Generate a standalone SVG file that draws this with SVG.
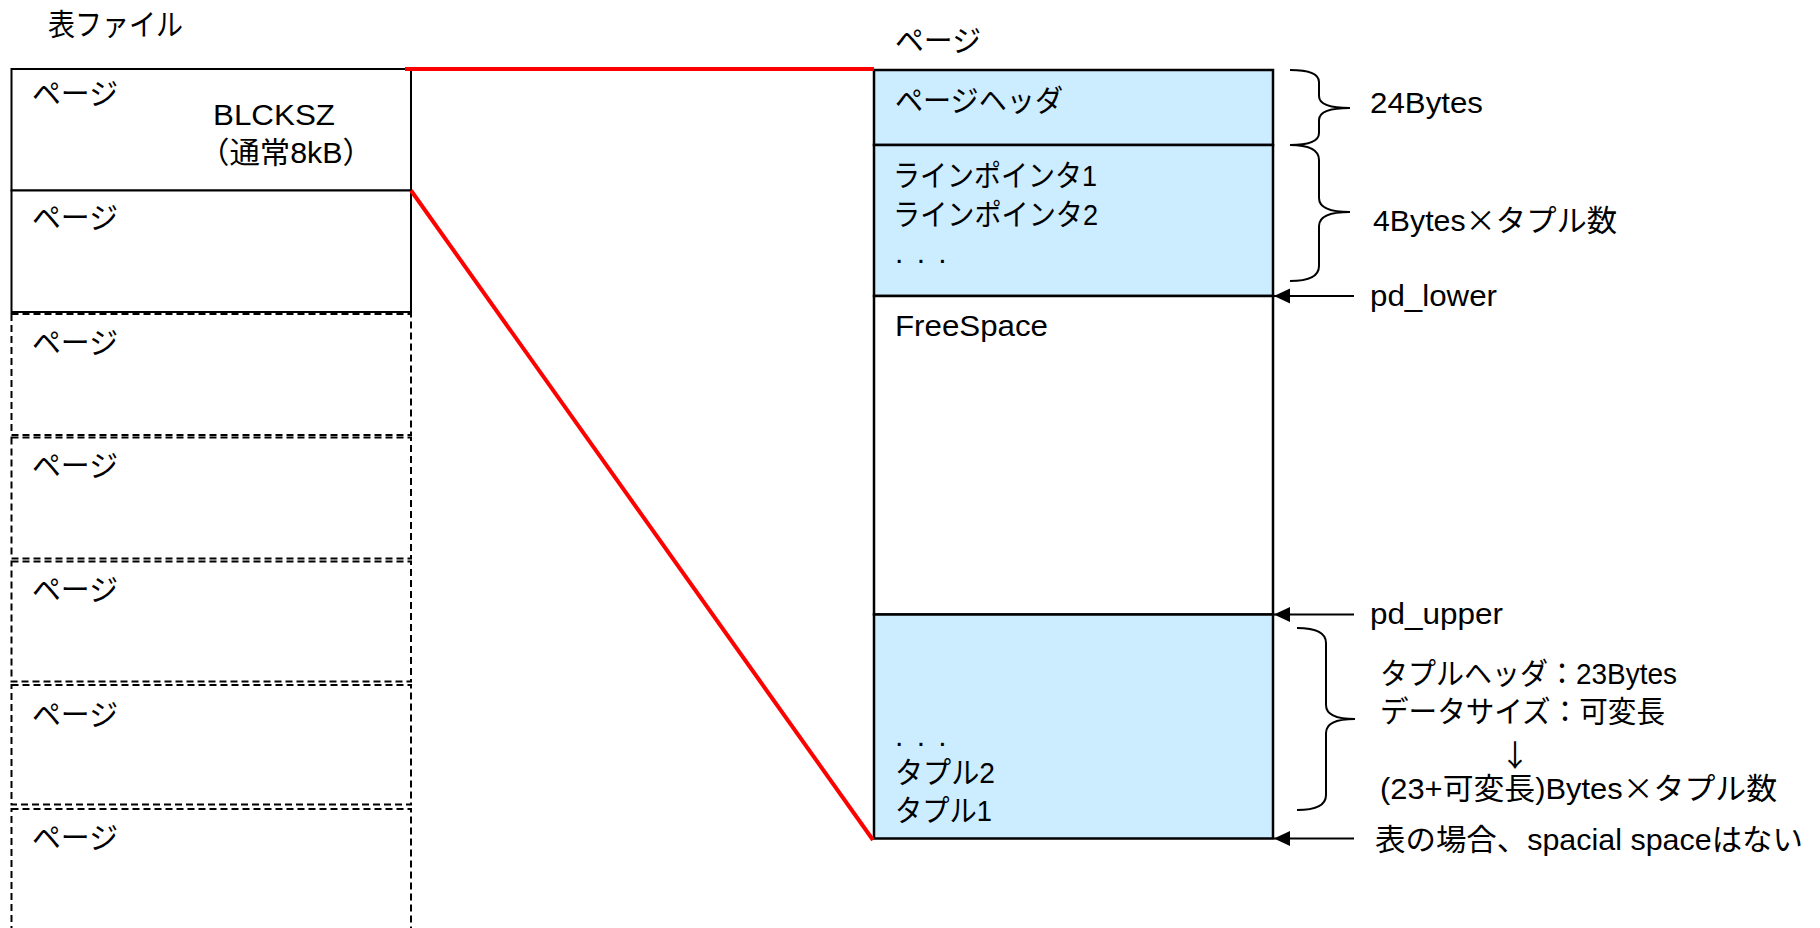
<svg xmlns="http://www.w3.org/2000/svg" width="1820" height="928" viewBox="0 0 1820 928">
<style>
text{font-family:"Liberation Sans","Noto Sans CJK JP",sans-serif;font-size:30px;fill:#000}
.cjk{font-family:"Noto Sans CJK JP",sans-serif}
.solid{fill:#fff;stroke:#000;stroke-width:2}
.dash{fill:#fff;stroke:#000;stroke-width:2;stroke-dasharray:7 4}
.blue{fill:#CCECFF;stroke:#000;stroke-width:2.5}
.white{fill:#fff;stroke:#000;stroke-width:2.5}
.red{stroke:#FF0000;stroke-width:4;fill:none}
.brace{fill:none;stroke:#000;stroke-width:2}
.arrow{stroke:#000;stroke-width:2;fill:none;marker-end:url(#ah)}
</style>
<defs>
<marker id="ah" markerUnits="userSpaceOnUse" markerWidth="17" markerHeight="16" refX="16" refY="7.5" orient="auto">
<path d="M0,0 L16,7.5 L0,15 z" fill="#000"/>
</marker>
</defs>
<rect width="1820" height="928" fill="#fff"/>

<g id="table-file-title"><text x="48" y="35" textLength="135" lengthAdjust="spacingAndGlyphs">表ファイル</text></g>

<g id="file-page-1">
<rect class="solid" x="11.5" y="69" width="399.5" height="121.5"/>
<text x="32" y="104" textLength="86" lengthAdjust="spacingAndGlyphs">ページ</text>
<text x="213" y="125" textLength="122" lengthAdjust="spacingAndGlyphs">BLCKSZ</text>
<text x="199" y="163" textLength="174" lengthAdjust="spacingAndGlyphs">（通常8kB）</text>
</g>
<g id="file-page-2">
<rect class="solid" x="11.5" y="190.5" width="399.5" height="121.5"/>
<text x="32" y="228" textLength="86" lengthAdjust="spacingAndGlyphs">ページ</text>
</g>
<g id="file-page-3">
<rect class="dash" x="11.5" y="314" width="399.5" height="121"/>
<text x="32" y="353" textLength="86" lengthAdjust="spacingAndGlyphs">ページ</text>
</g>
<g id="file-page-4">
<rect class="dash" x="11.5" y="437.5" width="399.5" height="121"/>
<text x="32" y="476" textLength="86" lengthAdjust="spacingAndGlyphs">ページ</text>
</g>
<g id="file-page-5">
<rect class="dash" x="11.5" y="561.5" width="399.5" height="120"/>
<text x="32" y="600" textLength="86" lengthAdjust="spacingAndGlyphs">ページ</text>
</g>
<g id="file-page-6">
<rect class="dash" x="11.5" y="685" width="399.5" height="119.5"/>
<text x="32" y="725" textLength="86" lengthAdjust="spacingAndGlyphs">ページ</text>
</g>
<g id="file-page-7">
<rect class="dash" x="11.5" y="809" width="399.5" height="130"/>
<text x="32" y="848" textLength="86" lengthAdjust="spacingAndGlyphs">ページ</text>
</g>

<g id="page-title"><text x="895" y="51" textLength="86" lengthAdjust="spacingAndGlyphs">ページ</text></g>

<g id="page-header">
<rect class="blue" x="874" y="70" width="399" height="75"/>
<text x="895" y="111" textLength="168" lengthAdjust="spacingAndGlyphs">ページヘッダ</text>
</g>
<g id="line-pointers">
<rect class="blue" x="874" y="145" width="399" height="151"/>
<text x="893" y="186" textLength="204" lengthAdjust="spacingAndGlyphs">ラインポインタ1</text>
<text x="893" y="225" textLength="205" lengthAdjust="spacingAndGlyphs">ラインポインタ2</text>
<text x="895" y="263" style="word-spacing:5px">. . .</text>
</g>
<g id="free-space">
<rect class="white" x="874" y="296" width="399" height="318.5"/>
<text x="895" y="336" textLength="153" lengthAdjust="spacingAndGlyphs">FreeSpace</text>
</g>
<g id="tuples">
<rect class="blue" x="874" y="614.5" width="399" height="224"/>
<text x="895" y="746" style="word-spacing:5px">. . .</text>
<text x="895" y="783" textLength="100" lengthAdjust="spacingAndGlyphs">タプル2</text>
<text x="895" y="821" textLength="97" lengthAdjust="spacingAndGlyphs">タプル1</text>
</g>

<g id="connectors">
<line class="red" x1="405" y1="69" x2="874" y2="69"/>
<line class="red" x1="411" y1="190.5" x2="873" y2="840"/>
<path class="brace" d="M1290,70 Q1319,70 1319,82 L1319,96 Q1319,108 1350,108 Q1319,108 1319,120 L1319,133 Q1319,145 1290,145"/>
<path class="brace" d="M1290,145 Q1319,145 1319,160 L1319,198 Q1319,212 1350,212 Q1319,212 1319,226 L1319,266 Q1319,281 1290,281"/>
<path class="brace" d="M1297,628 Q1326,628 1326,643 L1326,705 Q1326,719 1355,719 Q1326,719 1326,733 L1326,795 Q1326,810 1297,810"/>
<line class="arrow" x1="1354" y1="296" x2="1274" y2="296"/>
<line class="arrow" x1="1354" y1="614.5" x2="1274" y2="614.5"/>
<line class="arrow" x1="1354" y1="838.5" x2="1274" y2="838.5"/>
</g>

<g id="labels">
<text x="1370" y="113" textLength="113" lengthAdjust="spacingAndGlyphs">24Bytes</text>
<text x="1373" y="231" textLength="244" lengthAdjust="spacingAndGlyphs">4Bytes<tspan class="cjk">×</tspan>タプル数</text>
<text x="1370" y="306" textLength="127" lengthAdjust="spacingAndGlyphs">pd_lower</text>
<text x="1370" y="624" textLength="133" lengthAdjust="spacingAndGlyphs">pd_upper</text>
<text x="1380" y="684" textLength="297" lengthAdjust="spacingAndGlyphs">タプルヘッダ：23Bytes</text>
<text x="1380" y="722" textLength="285" lengthAdjust="spacingAndGlyphs">データサイズ：可変長</text>
<text class="cjk" x="1515" y="766" text-anchor="middle">↓</text>
<text x="1380" y="799" textLength="397" lengthAdjust="spacingAndGlyphs">(23+可変長)Bytes<tspan class="cjk">×</tspan>タプル数</text>
<text x="1375" y="850" textLength="428" lengthAdjust="spacingAndGlyphs">表の場合、spacial spaceはない</text>
</g>
</svg>
